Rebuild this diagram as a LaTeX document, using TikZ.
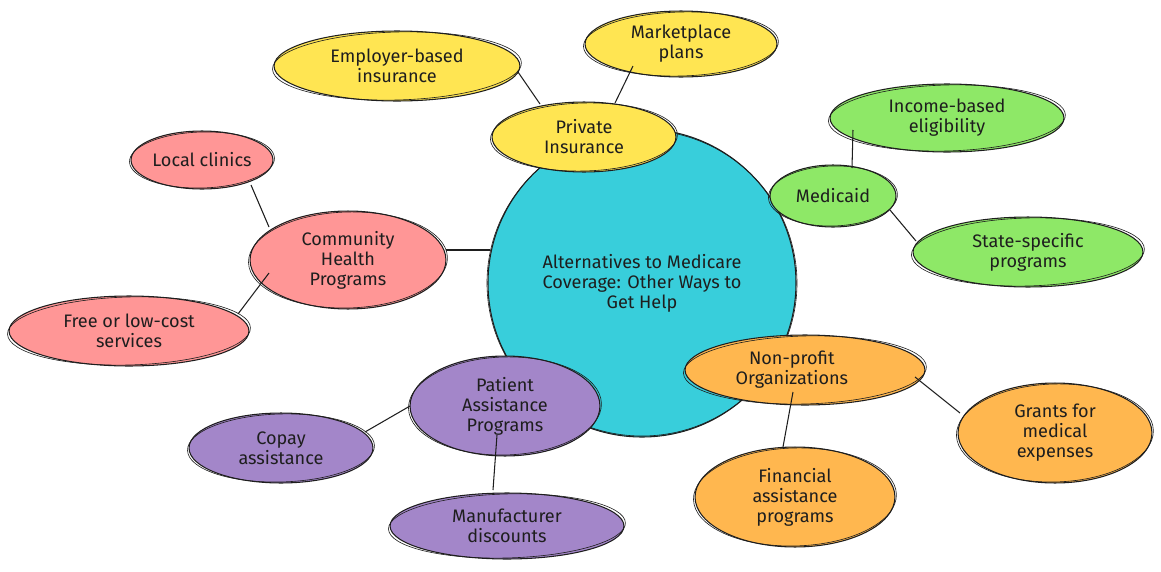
\documentclass[tikz,border=0pt]{standalone}
\usepackage{fontspec}
\setmainfont{Fira Sans}
\usetikzlibrary{shapes.geometric}
\definecolor{ccyan}{HTML}{38CEDB}
\definecolor{cyel}{HTML}{FFE552}
\definecolor{cgrn}{HTML}{8EE867}
\definecolor{cpink}{HTML}{FF9696}
\definecolor{cpur}{HTML}{A386C9}
\definecolor{corg}{HTML}{FFB74F}
\definecolor{ink}{HTML}{1E1E1E}
\tikzset{
  blobst/.style={ellipse, draw=ink, line width=0.6pt, inner sep=0pt, align=center,
    font=\fontsize{10.3}{11.4}\selectfont, text=ink},
  sketchst/.style={draw=ink, line width=0.35pt},
  linkst/.style={draw=ink, line width=0.6pt},
}
\newcommand\blob[7]{%
  \node[blobst, fill=#6, minimum width=#4*0.04cm, minimum height=#5*0.04cm] (#1) at (#2,#3) {#7};
  \draw[sketchst, rotate around={1.5:(#1.center)}] (#1.center) ellipse [x radius=#4+1.5, y radius=#5-1];
}
\begin{document}
\begin{tikzpicture}[x=0.02cm,y=-0.02cm]
\useasboundingbox (0,0) rectangle (1161,572);
% central
\node[blobst, circle, fill=ccyan, minimum size=308*0.02cm] (cen) at (642,283)
  {Alternatives to Medicare\\Coverage: Other Ways to\\Get Help};
\draw[sketchst] (cen.center) ellipse [x radius=155, y radius=153];
% private insurance
\blob{priv}{584}{137}{92}{35}{cyel}{Private\\Insurance}
\blob{emp}{397}{66}{123}{35}{cyel}{Employer-based\\insurance}
\blob{mkt}{681}{44}{96}{33}{cyel}{Marketplace\\plans}
% medicaid
\blob{med}{833}{196}{63}{31}{cgrn}{Medicaid}
\blob{inc}{947}{118}{117}{34}{cgrn}{Income-based\\eligibility}
\blob{sta}{1028}{252}{115}{35}{cgrn}{State-specific\\programs}
% community
\blob{chp}{348}{260}{98}{49}{cpink}{Community\\Health\\Programs}
\blob{loc}{202}{160}{71}{29}{cpink}{Local clinics}
\blob{fre}{129}{331}{120}{35}{cpink}{Free or low-cost\\services}
% patient assistance
\blob{pap}{505}{406}{95}{50}{cpur}{Patient\\Assistance\\Programs}
\blob{cop}{281}{448}{92}{35}{cpur}{Copay\\assistance}
\blob{man}{507}{526}{117}{33}{cpur}{Manufacturer\\discounts}
% non-profit
\blob{npo}{805}{370}{120}{35}{corg}{Non-profit\hspace*{15pt}\\Organizations\hspace*{15pt}}
\blob{gra}{1055}{433}{97}{50}{corg}{Grants for\\medical\\expenses}
\blob{fin}{795}{497}{100}{50}{corg}{Financial\\assistance\\programs}
% connectors
\draw[linkst] ([shift={(121,6)}]emp.center) -- ([shift={(-44,-33)}]priv.center);
\draw[linkst] ([shift={(-48,22)}]mkt.center) -- ([shift={(31,-34)}]priv.center);
\draw[linkst] ([shift={(-94,12)}]inc.center) -- ([shift={(19,-28)}]med.center);
\draw[linkst] ([shift={(57,14)}]med.center) -- ([shift={(-112,-11)}]sta.center);
\draw[linkst] ([shift={(49,25)}]loc.center) -- ([shift={(-79,-33)}]chp.center);
\draw[linkst] ([shift={(-79,13)}]chp.center) -- ([shift={(109,-17)}]fre.center);
\draw[linkst] ([shift={(98,-10)}]chp.center) -- ([shift={(-152,-33)}]cen.center);
\draw[linkst] ([shift={(-95,0)}]pap.center) -- ([shift={(84,-16)}]cop.center);
\draw[linkst] ([shift={(-8,29)}]pap.center) -- ([shift={(-14,-36)}]man.center);
\draw[linkst] ([shift={(110,7)}]npo.center) -- ([shift={(-95,-20)}]gra.center);
\draw[linkst] ([shift={(-12,22)}]npo.center) -- ([shift={(-12,-50)}]fin.center);
\end{tikzpicture}
\end{document}
